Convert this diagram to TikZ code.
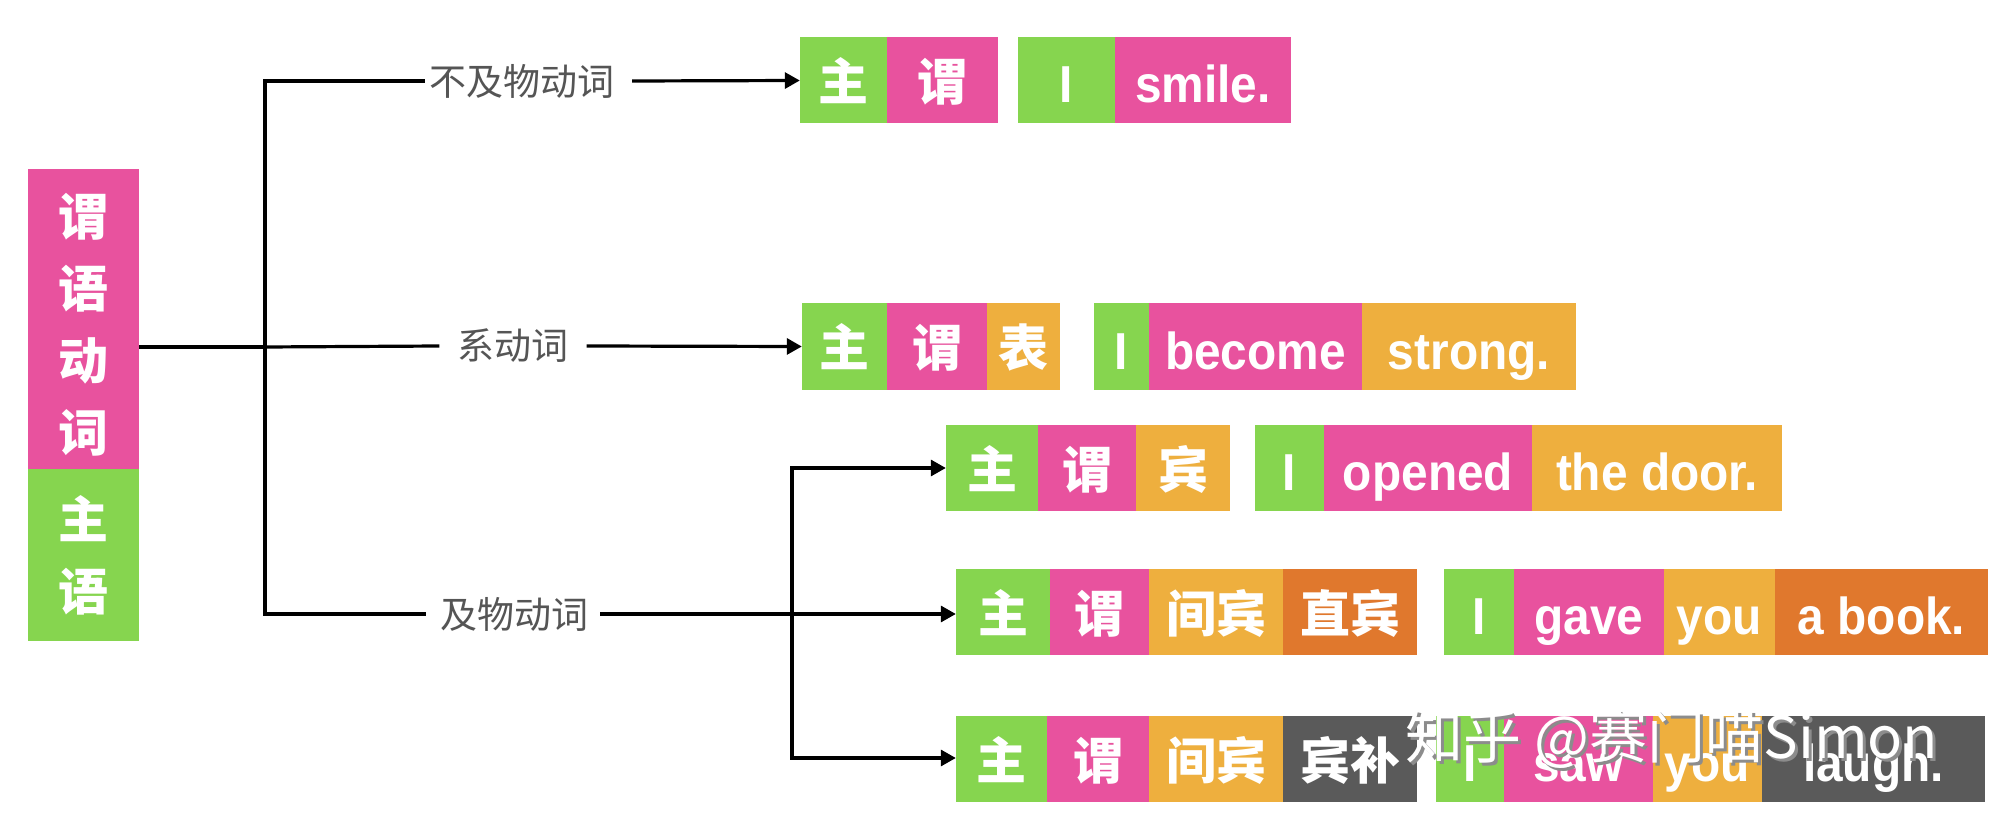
\documentclass[tikz,border=0pt]{standalone}
\usepackage{fontspec}
\usepackage{graphicx}
\usetikzlibrary{arrows.meta}
\newfontfamily\cjk{Noto Sans CJK SC}
\newfontfamily\hel{Liberation Sans}
\definecolor{cgreen}{HTML}{86D54F}
\definecolor{cpink}{HTML}{E8529E}
\definecolor{corange}{HTML}{EEAF3E}
\definecolor{cdorange}{HTML}{E0782D}
\definecolor{cdgray}{HTML}{5A5A5A}
\definecolor{clabel}{HTML}{555555}
\newcommand{\entxt}[1]{\scalebox{0.92}[1]{#1}}
\tikzset{
  colbox/.style={inner sep=0pt, text=white, minimum width=111pt, align=center,
    font=\cjk\bfseries\fontsize{50}{72}\selectfont},
  wbox/.style={inner sep=0pt, minimum height=86pt, text=white,
    text height=40pt, text depth=0pt,
    font=\cjk\bfseries\fontsize{50}{50}\selectfont},
  gb/.style={wbox, fill=cgreen},
  pb/.style={wbox, fill=cpink},
  ob/.style={wbox, fill=corange},
  db/.style={wbox, fill=cdorange},
  kb/.style={wbox, fill=cdgray},
  en/.style={text height=45pt, text depth=0pt, font=\hel\bfseries\fontsize{52}{52}\selectfont},
  lbl/.style={inner sep=0pt, text=clabel, font=\cjk\fontsize{37}{37}\selectfont},
  ln/.style={line width=3.2pt, black},
  arr/.style={ln, -{Triangle[length=15pt,width=16pt]}},
}
\begin{document}
\begin{tikzpicture}[x=1pt,y=-1pt]
\useasboundingbox[fill=white] (0,0) rectangle (2002,818);

% left column
\node[colbox, fill=cpink, minimum height=300pt] (lp) at (83.5,319) {\rule{0pt}{54pt}谓\\语\\动\\词};
\node[colbox, fill=cgreen, minimum height=172pt] (lg) at (83.5,555) {主\\语};

% row 1
\node[gb, minimum width=87pt]  (r1a) at (843.5,80.5) {主};
\node[pb, minimum width=111pt] (r1b) at (942.5,80.5) {谓};
\node[gb, en, minimum width=97pt]  (r1c) at (1066.5,80.5) {\entxt{I}};
\node[pb, en, minimum width=176pt] (r1d) at (1203,80.5) {\entxt{smile.}};

% row 2
\node[gb, minimum width=85pt]  (r2a) at (844.5,346.5) {主};
\node[pb, minimum width=100pt] (r2b) at (937,346.5) {谓};
\node[ob, minimum width=73pt]  (r2c) at (1023.5,346.5) {表};
\node[gb, en, minimum width=55pt]  (r2d) at (1121.5,346.5) {\entxt{I}};
\node[pb, en, minimum width=213pt] (r2e) at (1255.5,346.5) {\entxt{become}};
\node[ob, en, minimum width=214pt] (r2f) at (1469,346.5) {\entxt{strong.}};

% row 3
\node[gb, minimum width=92pt] (r3a) at (992,468) {主};
\node[pb, minimum width=98pt] (r3b) at (1087,468) {谓};
\node[ob, minimum width=94pt] (r3c) at (1183,468) {宾};
\node[gb, en, minimum width=69pt]  (r3d) at (1289.5,468) {\entxt{I}};
\node[pb, en, minimum width=208pt] (r3e) at (1428,468) {\entxt{opened}};
\node[ob, en, minimum width=250pt] (r3f) at (1657,468) {\entxt{the door.}};

% row 4
\node[gb, minimum width=94pt]  (r4a) at (1003,612) {主};
\node[pb, minimum width=99pt]  (r4b) at (1099.5,612) {谓};
\node[ob, minimum width=134pt] (r4c) at (1216,612) {间宾};
\node[db, minimum width=134pt] (r4d) at (1350,612) {直宾};
\node[gb, en, minimum width=70pt]  (r4e) at (1479,612) {\entxt{I}};
\node[pb, en, minimum width=150pt] (r4f) at (1589,612) {\entxt{gave}};
\node[ob, en, minimum width=111pt] (r4g) at (1719.5,612) {\entxt{you}};
\node[db, en, minimum width=213pt] (r4h) at (1881.5,612) {\entxt{a book.}};

% row 5
\node[gb, minimum width=91pt]  (r5a) at (1001.5,759) {主};
\node[pb, minimum width=102pt] (r5b) at (1098,759) {谓};
\node[ob, minimum width=134pt] (r5c) at (1216,759) {间宾};
\node[kb, minimum width=134pt] (r5d) at (1350,759) {宾补};
\node[gb, en, minimum width=68pt]  (r5e) at (1470,759) {\entxt{I}};
\node[pb, en, minimum width=149pt] (r5f) at (1578.5,759) {\entxt{saw}};
\node[ob, en, minimum width=109pt] (r5g) at (1707.5,759) {\entxt{you}};
\node[kb, en, minimum width=223pt] (r5h) at (1873.5,759) {\entxt{laugh.}};

% labels
\node[lbl] (l1) at (521.5,81) {不及物动词};
\node[lbl] (l2) at (513,346) {系动词};
\node[lbl] (l3) at (514,614) {及物动词};

% connectors
\coordinate (j)  at (265,347);
\coordinate (vt) at (265,81);
\coordinate (vb) at (265,614);
\coordinate (t3) at (792,468);
\coordinate (b3) at (792,758);

\draw[ln] (lp.east |- j) -- (j);
\draw[ln, line cap=rect] (vt) -- (vb);
\draw[ln] (vt) -- ([xshift=-4pt]l1.west);
\draw[arr] ([xshift=18pt]l1.east) -- (r1a.west);
\draw[ln] (j) -- ([xshift=-18pt]l2.west);
\draw[arr] ([xshift=18pt]l2.east) -- (r2a.west);
\draw[ln] (vb) -- ([xshift=-14pt]l3.west);
\draw[arr] ([xshift=12pt]l3.east) -- (r4a.west |- vb);
\draw[ln, line cap=rect] (t3) -- (b3);
\draw[arr] (t3) -- (r3a.west |- t3);
\draw[arr] (b3) -- (r5a.west |- b3);

% watermark
\node[inner sep=0pt, text=black!45, font=\cjk\fontsize{58}{58}\selectfont] (wms) at (1675,742) {知乎 @赛门喵Simon};
\node[inner sep=0pt, text=white, font=\cjk\fontsize{58}{58}\selectfont] (wm) at (1672,739) {知乎 @赛门喵Simon};
\end{tikzpicture}
\end{document}
